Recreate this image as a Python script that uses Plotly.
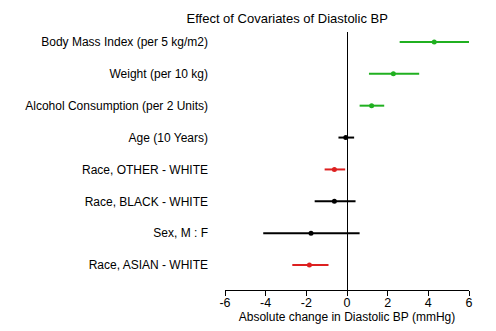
import plotly.graph_objects as go

labels = ["Race, ASIAN - WHITE", "Sex, M : F", "Race, BLACK - WHITE", "Race, OTHER - WHITE",
          "Age (10 Years)", "Alcohol Consumption (per 2 Units)", "Weight (per 10 kg)",
          "Body Mass Index (per 5 kg/m2)"]
estimate = [-1.85, -1.77, -0.62, -0.62, -0.06, 1.21, 2.28, 4.29]
lower = [-2.69, -4.12, -1.59, -1.10, -0.42, 0.62, 1.08, 2.59]
upper = [-0.91, 0.62, 0.42, -0.09, 0.35, 1.83, 3.55, 6.01]
colors = ["#dd2020", "#000000", "#000000", "#dd2020", "#000000", "#20b020", "#20b020", "#20b020"]
xticks = [-6, -4, -2, 0, 2, 4, 6]

fig = go.Figure()
for i, lab in enumerate(labels):
    fig.add_trace(go.Scatter(
        x=[estimate[i]], y=[i], mode="markers",
        marker=dict(color=colors[i], size=5),
        error_x=dict(type="data", symmetric=False,
                     array=[upper[i] - estimate[i]],
                     arrayminus=[estimate[i] - lower[i]],
                     color=colors[i], thickness=2, width=0),
        showlegend=False, hoverinfo="skip"))

fig.update_layout(
    width=496, height=331,
    margin=dict(l=225, r=27, t=32, b=41, autoexpand=False),
    plot_bgcolor="white", paper_bgcolor="white",
    font=dict(family="Liberation Sans, Arial, sans-serif", size=12, color="black"),
    title=dict(text="Effect of Covariates of Diastolic BP", x=0.579, xanchor="center",
               xref="container", y=1 - 18 / 331, yref="container", yanchor="middle",
               font=dict(size=13)),
    xaxis=dict(range=[-6, 6], tickvals=xticks, ticktext=[str(t) for t in xticks],
               showline=True, linecolor="black", linewidth=1, automargin=False,
               ticks="outside", ticklen=5, tickcolor="black", ticklabelstandoff=-4,
               showgrid=False, zeroline=True, zerolinecolor="black", zerolinewidth=1,
               title=dict(text="Absolute change in Diastolic BP (mmHg)", standoff=2,
                          font=dict(size=12)),
               tickfont=dict(size=12.5)),
    yaxis=dict(range=[-0.78, 7.31], tickvals=list(range(len(labels))), ticktext=labels,
               showline=False, showgrid=False, zeroline=False, ticks="", automargin=False,
               ticklabelstandoff=16, tickfont=dict(size=12)),
)

fig.write_html("out.html")
